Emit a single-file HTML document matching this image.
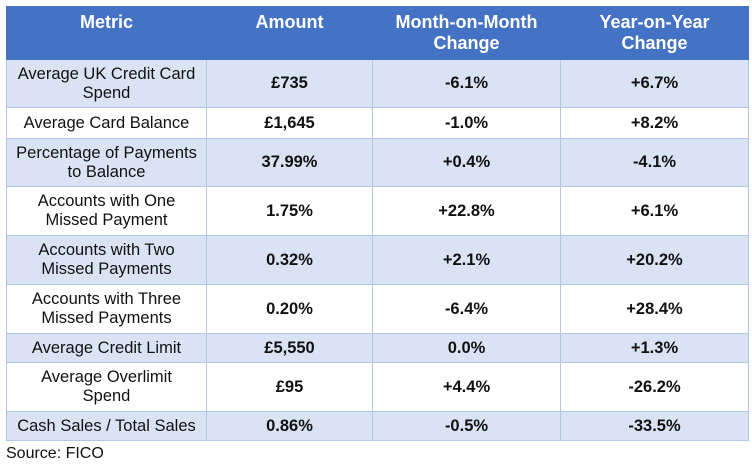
<!DOCTYPE html>
<html><head><meta charset="utf-8"><style>
body{margin:0;width:752px;height:472px;background:#fff;font-family:"Liberation Sans",Arial,sans-serif;position:relative;overflow:hidden}
table{position:absolute;left:6px;top:6px;border-collapse:collapse;table-layout:fixed;width:742px}
td,th{border:1px solid #b4c6e7;text-align:center;vertical-align:middle;font-size:16.5px;line-height:19px;padding:0 2px;color:#111}
th{background:#4472c4;color:#fff;font-weight:bold;font-size:18px;height:47px;vertical-align:top;padding-top:5px;padding-bottom:0;border-color:#4472c4;line-height:21px}
tr.o td{background:#dae3f3}
td.b{font-weight:bold}
.src{position:absolute;left:6px;top:445px;font-size:16px;color:#111}
</style></head><body>
<table>
<colgroup><col style="width:200px"><col style="width:166px"><col style="width:188px"><col style="width:188px"></colgroup>
<tr><th>Metric</th><th>Amount</th><th>Month-on-Month<br>Change</th><th>Year-on-Year<br>Change</th></tr>
<tr class="o" style="height:48px"><td>Average UK Credit Card<br>Spend</td><td class="b">£735</td><td class="b">-6.1%</td><td class="b">+6.7%</td></tr>
<tr style="height:31px"><td>Average Card Balance</td><td class="b">£1,645</td><td class="b">-1.0%</td><td class="b">+8.2%</td></tr>
<tr class="o" style="height:48px"><td>Percentage of Payments<br>to Balance</td><td class="b">37.99%</td><td class="b">+0.4%</td><td class="b">-4.1%</td></tr>
<tr style="height:49px"><td>Accounts with One<br>Missed Payment</td><td class="b">1.75%</td><td class="b">+22.8%</td><td class="b">+6.1%</td></tr>
<tr class="o" style="height:49px"><td>Accounts with Two<br>Missed Payments</td><td class="b">0.32%</td><td class="b">+2.1%</td><td class="b">+20.2%</td></tr>
<tr style="height:49px"><td>Accounts with Three<br>Missed Payments</td><td class="b">0.20%</td><td class="b">-6.4%</td><td class="b">+28.4%</td></tr>
<tr class="o" style="height:29px"><td>Average Credit Limit</td><td class="b">£5,550</td><td class="b">0.0%</td><td class="b">+1.3%</td></tr>
<tr style="height:49px"><td>Average Overlimit<br>Spend</td><td class="b">£95</td><td class="b">+4.4%</td><td class="b">-26.2%</td></tr>
<tr class="o" style="height:29px"><td>Cash Sales / Total Sales</td><td class="b">0.86%</td><td class="b">-0.5%</td><td class="b">-33.5%</td></tr>
</table>
<div class="src">Source: FICO</div>
</body></html>
